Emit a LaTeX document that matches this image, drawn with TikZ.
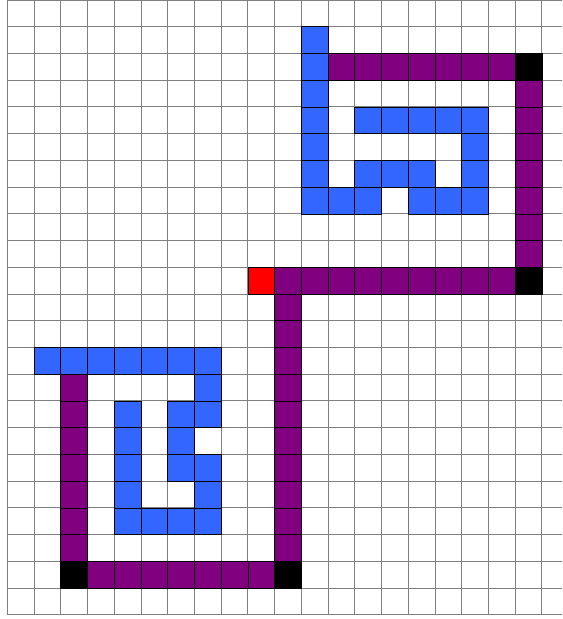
\documentclass[tikz,border=0pt]{standalone}
\usepackage{tikz}
\definecolor{wallblue}{RGB}{51,102,255}
\definecolor{pathpurple}{RGB}{128,0,128}
\tikzset{
  gridline/.style={line width=0.9pt,color=gray},
  bluecell/.style={fill=wallblue,draw=black,line width=0.6pt},
  purplecell/.style={fill=pathpurple,draw=black,line width=0.6pt},
  turncell/.style={fill=black,draw=black,line width=0.6pt},
  startcell/.style={fill=red,draw=black,line width=0.6pt}
}
\begin{document}
\begin{tikzpicture}
\useasboundingbox (-0.273,-0.16) rectangle (20.757,23.0);
\begin{scope}
  \clip (-0.273,-0.16) rectangle (20.757,22.985);
  \draw[gridline] (0,0) grid (21,24);
\end{scope}
% upper shape
\foreach \y in {15,...,21} \draw[bluecell] (11,\y) rectangle ++(1,1);
\foreach \x in {13,...,17} \draw[bluecell] (\x,18) rectangle ++(1,1);
\foreach \x/\y in {17/17,13/16,14/16,15/16,17/16,12/15,13/15,15/15,16/15,17/15}
  \draw[bluecell] (\x,\y) rectangle ++(1,1);
\foreach \x in {12,...,18} \draw[purplecell] (\x,20) rectangle ++(1,1);
\foreach \y in {13,...,19} \draw[purplecell] (19,\y) rectangle ++(1,1);
\foreach \x in {10,...,18} \draw[purplecell] (\x,12) rectangle ++(1,1);
\draw[turncell] (19,20) rectangle ++(1,1);
\draw[turncell] (19,12) rectangle ++(1,1);
\draw[startcell] (9,12) rectangle ++(1,1);
% lower shape
\foreach \x in {1,...,7} \draw[bluecell] (\x,9) rectangle ++(1,1);
\foreach \y in {3,...,7} \draw[bluecell] (4,\y) rectangle ++(1,1);
\foreach \x/\y in {7/8,6/7,7/7,6/6,6/5,7/5,7/4,5/3,6/3,7/3}
  \draw[bluecell] (\x,\y) rectangle ++(1,1);
\foreach \y in {2,...,11} \draw[purplecell] (10,\y) rectangle ++(1,1);
\foreach \x in {3,...,9} \draw[purplecell] (\x,1) rectangle ++(1,1);
\foreach \y in {2,...,8} \draw[purplecell] (2,\y) rectangle ++(1,1);
\draw[turncell] (10,1) rectangle ++(1,1);
\draw[turncell] (2,1) rectangle ++(1,1);
\end{tikzpicture}
\end{document}
